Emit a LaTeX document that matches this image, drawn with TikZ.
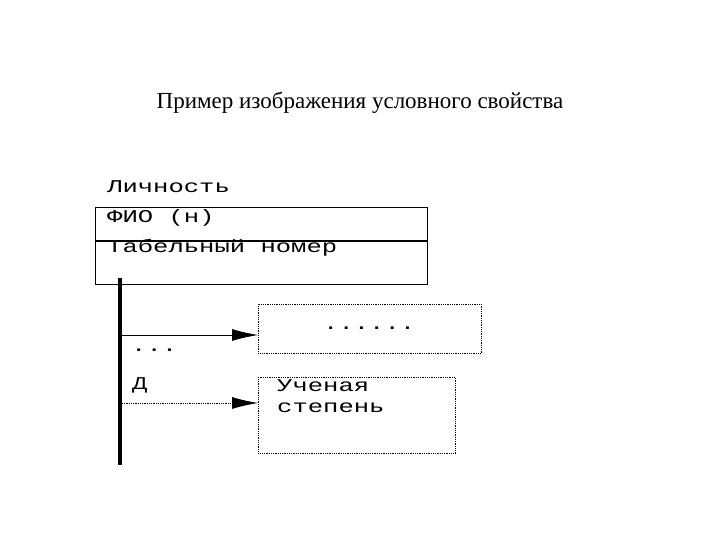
\documentclass[tikz,border=0pt]{standalone}
\usepackage{fontspec}
\setmainfont{Liberation Serif}
\newfontfamily\monof[FakeStretch=1.42]{Liberation Mono}
\usetikzlibrary{arrows.meta}
\begin{document}
\begin{tikzpicture}[x=1pt,y=-1pt,
  mono/.style={font=\monof\fontsize{18}{20}\selectfont,inner sep=0pt,anchor=west},
  dotbox/.style={draw,densely dotted,line width=0.8pt},
  arr/.style={-{Latex[length=26pt,width=12pt]},line width=0.8pt}]
\useasboundingbox (0,0) rectangle (720,540);
\node[font=\fontsize{23}{26}\selectfont] (title) at (360,103) {Пример изображения условного свойства};
\node[mono] (lich) at (107,187) {Личность};
\draw[line width=1pt] (95,208) rectangle (427,284);
\draw[line width=1.2pt] (95,241) -- (427,241);
\node[mono] (fio) at (107,218) {ФИО (н)};
\node[mono] (tab) at (107,248) {Табельный номер};
\coordinate (top) at (120,278);
\coordinate (bot) at (120,465);
\draw[line width=4pt] (top) -- (bot);
\node[dotbox,minimum width=223pt,minimum height=49pt,anchor=north west,inner sep=0pt] (b1) at (258,304) {};
\node[mono] (dots) at (323,328) {......};
\node[dotbox,minimum width=197pt,minimum height=76pt,anchor=north west,inner sep=0pt] (b2) at (258,377) {};
\node[mono,align=left,anchor=north west,font=\monof\fontsize{18}{21}\selectfont] (uch) at (277,379) {Ученая\\степень};
\node[mono] (dd) at (131,350) {...};
\node[mono] (d) at (132,385) {Д};
\coordinate (s1) at (122,335);
\coordinate (s2) at (122,403);
\draw[arr] (s1) -- (b1.west |- s1);
\draw[arr,densely dotted] (s2) -- (b2.west |- s2);
\end{tikzpicture}
\end{document}
